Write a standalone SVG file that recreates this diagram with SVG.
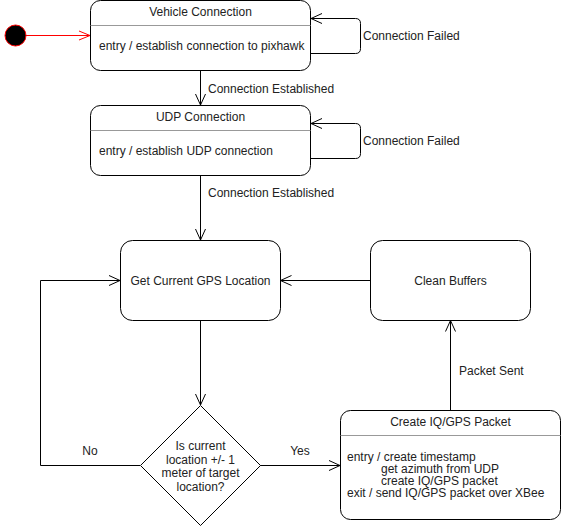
<svg xmlns="http://www.w3.org/2000/svg" width="561" height="526" viewBox="0 0 561 526">
<style>
.box{fill:#fff;stroke:#000;stroke-width:1}
.sep{stroke:#999;stroke-width:1}
.t{font-family:"Liberation Sans",Arial,sans-serif;font-size:12px;fill:#222}
.c{text-anchor:middle}
.ln{fill:none;stroke:#000;stroke-width:1}
</style>
<defs>
<marker id="ah" markerUnits="userSpaceOnUse" markerWidth="14" markerHeight="14" refX="11" refY="6" orient="auto">
<path d="M0,1 L11,6 L0,11" fill="none" stroke="#000" stroke-width="1"/>
</marker>
<marker id="ahr" markerUnits="userSpaceOnUse" markerWidth="14" markerHeight="14" refX="11" refY="6" orient="auto">
<path d="M0,1.5 L11,6 L0,10.5" fill="none" stroke="#f00" stroke-width="1"/>
</marker>
</defs>
<g id="connectors">
<line x1="26" y1="35.5" x2="90" y2="35.5" stroke="#f00" stroke-width="1" marker-end="url(#ahr)"/>
<path class="ln" d="M310.5,53.5 L355.5,53.5 Q360.5,53.5 360.5,48.5 L360.5,23.5 Q360.5,18.5 355.5,18.5 L311,18.5" marker-end="url(#ah)"/>
<text class="t" x="363" y="40">Connection Failed</text>
<line class="ln" x1="200.5" y1="70.5" x2="200.5" y2="105" marker-end="url(#ah)"/>
<text class="t" x="208" y="93">Connection Established</text>
<path class="ln" d="M310.5,158.5 L355.5,158.5 Q360.5,158.5 360.5,153.5 L360.5,128.5 Q360.5,123.5 355.5,123.5 L311,123.5" marker-end="url(#ah)"/>
<text class="t" x="363" y="145">Connection Failed</text>
<line class="ln" x1="200.5" y1="175.5" x2="200.5" y2="240" marker-end="url(#ah)"/>
<text class="t" x="208" y="197">Connection Established</text>
<line class="ln" x1="370" y1="280.5" x2="280.5" y2="280.5" marker-end="url(#ah)"/>
<line class="ln" x1="200.5" y1="320.5" x2="200.5" y2="405" marker-end="url(#ah)"/>
<path class="ln" d="M140,465.5 L40.5,465.5 L40.5,280.5 L120,280.5" marker-end="url(#ah)"/>
<text class="t c" x="90" y="455">No</text>
<line class="ln" x1="260" y1="465.5" x2="340" y2="465.5" marker-end="url(#ah)"/>
<text class="t c" x="300" y="455">Yes</text>
<line class="ln" x1="450.5" y1="410" x2="450.5" y2="320.5" marker-end="url(#ah)"/>
<text class="t" x="459" y="375">Packet Sent</text>
</g>
<g id="initial">
<circle cx="15.5" cy="35.5" r="10.5" fill="#000" stroke="#f00" stroke-width="1"/>
</g>
<g id="vehicle-connection">
<rect class="box" x="90.5" y="0.5" width="220" height="70" rx="10" ry="10"/>
<line class="sep" x1="90.5" y1="25.5" x2="310.5" y2="25.5"/>
<text class="t c" x="200.5" y="16">Vehicle Connection</text>
<text class="t" x="99" y="50">entry / establish connection to pixhawk</text>
</g>
<g id="udp-connection">
<rect class="box" x="90.5" y="105.5" width="220" height="70" rx="10" ry="10"/>
<line class="sep" x1="90.5" y1="130.5" x2="310.5" y2="130.5"/>
<text class="t c" x="200.5" y="121">UDP Connection</text>
<text class="t" x="99" y="155">entry / establish UDP connection</text>
</g>
<g id="get-gps">
<rect class="box" x="120.5" y="240.5" width="160" height="80" rx="12" ry="12"/>
<text class="t c" x="200.5" y="285">Get Current GPS Location</text>
</g>
<g id="clean-buffers">
<rect class="box" x="370.5" y="240.5" width="160" height="80" rx="12" ry="12"/>
<text class="t c" x="450.5" y="285">Clean Buffers</text>
</g>
<g id="decision">
<polygon points="200.5,405.5 260.5,465.5 200.5,525.5 140.5,465.5" fill="#fff" stroke="#000" stroke-width="1"/>
<text class="t c" x="200.5" y="450">Is current</text>
<text class="t c" x="200.5" y="463.5">location +/- 1</text>
<text class="t c" x="200.5" y="477">meter of target</text>
<text class="t c" x="200.5" y="490.5">location?</text>
</g>
<g id="create-packet">
<rect class="box" x="340.5" y="410.5" width="220" height="109" rx="10" ry="10"/>
<line class="sep" x1="340.5" y1="435.5" x2="560.5" y2="435.5"/>
<text class="t c" x="450.5" y="426">Create IQ/GPS Packet</text>
<text class="t" x="347" y="461">entry / create timestamp</text>
<text class="t" x="381" y="473">get azimuth from UDP</text>
<text class="t" x="381" y="485">create IQ/GPS packet</text>
<text class="t" x="347" y="497">exit / send IQ/GPS packet over XBee</text>
</g>
</svg>
